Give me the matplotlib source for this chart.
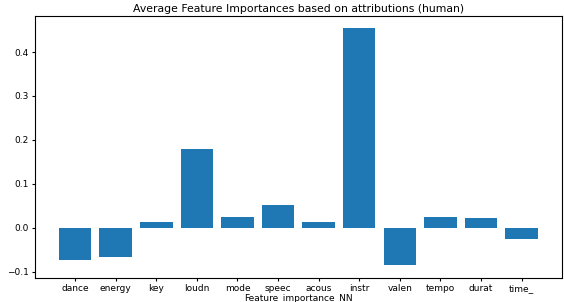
import matplotlib
matplotlib.use("Agg")
import matplotlib.pyplot as plt

features = ["dance", "energy", "key", "loudn", "mode", "speec", "acous", "instr", "valen", "tempo", "durat", "time_"]
importances = [-0.073, -0.066, 0.014, 0.178, 0.025, 0.051, 0.014, 0.455, -0.086, 0.025, 0.023, -0.025]

plt.rcParams['font.size'] = 6.5
fig = plt.figure(figsize=(5.64, 3.02), dpi=100)
ax = fig.add_axes([0.062, 0.081, 0.934, 0.866])
ax.bar(features, importances, color="#1f77b4")
ax.set_ylim(-0.1136, 0.482)
ax.set_yticks([-0.1, 0.0, 0.1, 0.2, 0.3, 0.4])
ax.set_title("Average Feature Importances based on attributions (human)", fontsize=7.8, pad=3)
ax.set_xlabel("Feature_importance_NN", fontsize=6.5, labelpad=1)
ax.tick_params(length=2.5, pad=2)
fig.savefig("out.png", dpi=100)
